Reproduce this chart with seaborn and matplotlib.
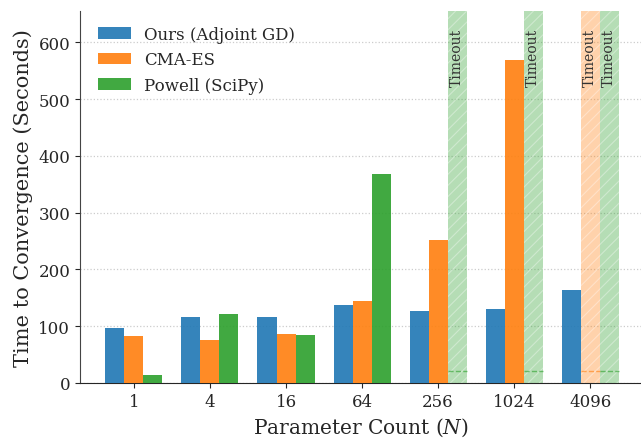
import numpy as np
import pandas as pd
import seaborn as sns
import matplotlib.pyplot as plt

#----------------------
# Data
#----------------------

param_counts = ["1", "4", "16", "64", "256", "1024", "4096"]
methods = ["Ours (Adjoint GD)", "CMA-ES", "Powell (SciPy)"]

# np.nan marks a run that timed out
ours_times = [97, 116, 116, 137, 127, 130, 164]
cma_times = [83, 76, 86, 144, 252, 568, np.nan]
powell_times = [14, 121, 84, 368, np.nan, np.nan, np.nan]

y_top = 655
timeout_marker = 21

#----------------------
# Build long table
#----------------------

rows = []
for m, vals in zip(methods, [ours_times, cma_times, powell_times]):
    for n, v in zip(param_counts, vals):
        timed_out = np.isnan(v)
        rows.append({"N": n, "Method": m,
                     "Time": y_top if timed_out else v,
                     "Timeout": timed_out})
df = pd.DataFrame(rows)

#----------------------
# Plot
#----------------------

sns.set_style("ticks")
plt.rcParams["font.family"] = ["DejaVu Serif"]
plt.rcParams["mathtext.fontset"] = "dejavuserif"
plt.rcParams["hatch.color"] = "white"
plt.rcParams["hatch.linewidth"] = 0.8

colors = ["#1f77b4", "#ff7f0e", "#2ca02c"]

fig = plt.figure(figsize=(6.41, 4.39), dpi=100)
ax = fig.add_axes([80 / 641, 55 / 439, 1 - 80 / 641, 372 / 439])

sns.barplot(data=df, x="N", y="Time", hue="Method", order=param_counts,
            hue_order=methods, palette=colors, width=0.75, alpha=0.9,
            saturation=1, linewidth=0, ax=ax, zorder=3)

# restyle timeout bars
for container, m in zip(ax.containers, methods):
    sub = df[df["Method"] == m].set_index("N").loc[param_counts]
    for patch, to in zip(container.patches, sub["Timeout"]):
        if to:
            patch.set_alpha(0.35)
            patch.set_hatch("///")
            patch.set_edgecolor("white")
            patch.set_linewidth(0)
            x0 = patch.get_x()
            w = patch.get_width()
            c = patch.get_facecolor()
            ax.hlines(timeout_marker, x0, x0 + w, colors=[c[:3]],
                      linestyles="--", linewidth=1, alpha=0.6, zorder=4)
            ax.text(x0 + w / 2, 625, "Timeout", rotation=90, ha="center",
                    va="top", fontsize=10, color="#333333", zorder=5)

ax.set_ylim(0, y_top)
ax.set_xlim(-0.71, 6.67)
ax.set_yticks(range(0, 700, 100))
ax.yaxis.grid(True, linestyle=":", color="#cccccc", linewidth=0.9, zorder=0)
ax.set_axisbelow(True)

ax.set_xlabel("Parameter Count ($N$)", fontsize=14.5)
ax.set_ylabel("Time to Convergence (Seconds)", fontsize=15)
ax.tick_params(labelsize=12)
ax.spines["left"].set_color("#444444")
sns.despine(ax=ax)

handles, labels = ax.get_legend_handles_labels()
ax.legend(handles, labels, loc="upper left", frameon=False, fontsize=12,
          bbox_to_anchor=(0.005, 1.0))

plt.savefig("out.png", dpi=100)
